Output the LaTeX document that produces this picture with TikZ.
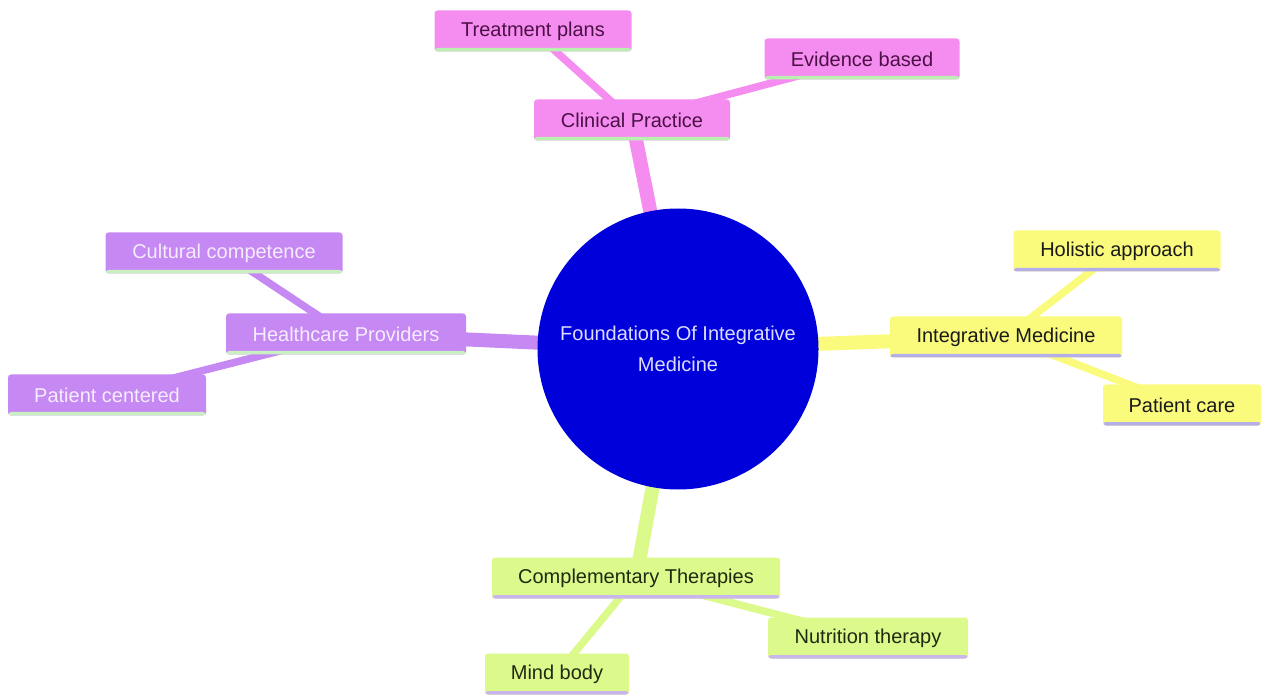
\documentclass[tikz,border=0pt]{standalone}
\usepackage{fontspec}
\setmainfont{Liberation Sans}
\definecolor{pinkf}{HTML}{F58DF0}
\definecolor{pinkt}{HTML}{4B1045}
\definecolor{pinku}{HTML}{B9F0B0}
\definecolor{purf}{HTML}{C688F3}
\definecolor{purt}{HTML}{F5ECFF}
\definecolor{puru}{HTML}{C8F0C0}
\definecolor{yelf}{HTML}{FAFA7D}
\definecolor{yelt}{HTML}{1A1A1A}
\definecolor{yelu}{HTML}{B4AEEA}
\definecolor{limf}{HTML}{DCF98C}
\definecolor{limt}{HTML}{1F2A10}
\definecolor{limu}{HTML}{C9B6EC}
\definecolor{cblue}{HTML}{0000DB}
\definecolor{ctext}{HTML}{DCDCFF}
\pgfdeclarelayer{bg}
\pgfsetlayers{bg,main}
\begin{document}
\begin{tikzpicture}[x=1pt,y=-1pt,
  box/.style={rectangle, rounded corners=3pt, inner sep=0pt, minimum height=41pt,
    font=\fontsize{20}{24}\selectfont},
  ubar/.style={path picture={\fill[#1] ([yshift=-1pt]path picture bounding box.south west) rectangle ([yshift=3.5pt]path picture bounding box.south east);}},
  pinkbox/.style={box, fill=pinkf, text=pinkt, ubar=pinku},
  purbox/.style={box, fill=purf, text=purt, ubar=puru},
  yelbox/.style={box, fill=yelf, text=yelt, ubar=yelu},
  limbox/.style={box, fill=limf, text=limt, ubar=limu},
  mainedge/.style={line width=14pt, draw=#1},
  leafedge/.style={line width=7.5pt, draw=#1}]
\useasboundingbox (0,0) rectangle (1261,700);

\node[circle, fill=cblue, minimum size=281pt, inner sep=0pt, text=ctext, align=center,
  font=\fontsize{20}{31}\selectfont] (root) at (678,349) {Foundations Of Integrative\\Medicine};

\node[pinkbox, minimum width=196pt] (cp) at (632,120) {Clinical Practice};
\node[pinkbox, minimum width=197pt] (tp) at (533,31) {Treatment plans};
\node[pinkbox, minimum width=195pt] (eb) at (862,59) {Evidence based};

\node[yelbox, minimum width=232pt] (im) at (1006,337) {Integrative Medicine};
\node[yelbox, minimum width=207pt] (ha) at (1117,251) {Holistic approach};
\node[yelbox, minimum width=158pt] (pc) at (1182,405) {Patient care};

\node[purbox, minimum width=240pt] (hp) at (346,334) {Healthcare Providers};
\node[purbox, minimum width=237pt] (cc) at (224,253) {Cultural competence};
\node[purbox, minimum width=198pt] (pce) at (107,395) {Patient centered};

\node[limbox, minimum width=288pt] (ct) at (636,578) {Complementary Therapies};
\node[limbox, minimum width=200pt] (nt) at (868,638) {Nutrition therapy};
\node[limbox, minimum width=144pt] (mb) at (557,674) {Mind body};

\begin{pgfonlayer}{bg}
\draw[mainedge=pinkf] (root.center) -- (cp.center);
\draw[mainedge=yelf] (root.center) -- (im.center);
\draw[mainedge=purf] (root.center) -- (hp.center);
\draw[mainedge=limf] (root.center) -- (ct.center);
\draw[leafedge=pinkf] (cp.center) -- (tp.center);
\draw[leafedge=pinkf] (cp.center) -- (eb.center);
\draw[leafedge=yelf] (im.center) -- (ha.center);
\draw[leafedge=yelf] (im.center) -- (pc.center);
\draw[leafedge=purf] (hp.center) -- (cc.center);
\draw[leafedge=purf] (hp.center) -- (pce.center);
\draw[leafedge=limf] (ct.center) -- (nt.center);
\draw[leafedge=limf] (ct.center) -- (mb.center);
\end{pgfonlayer}
\end{tikzpicture}
\end{document}
